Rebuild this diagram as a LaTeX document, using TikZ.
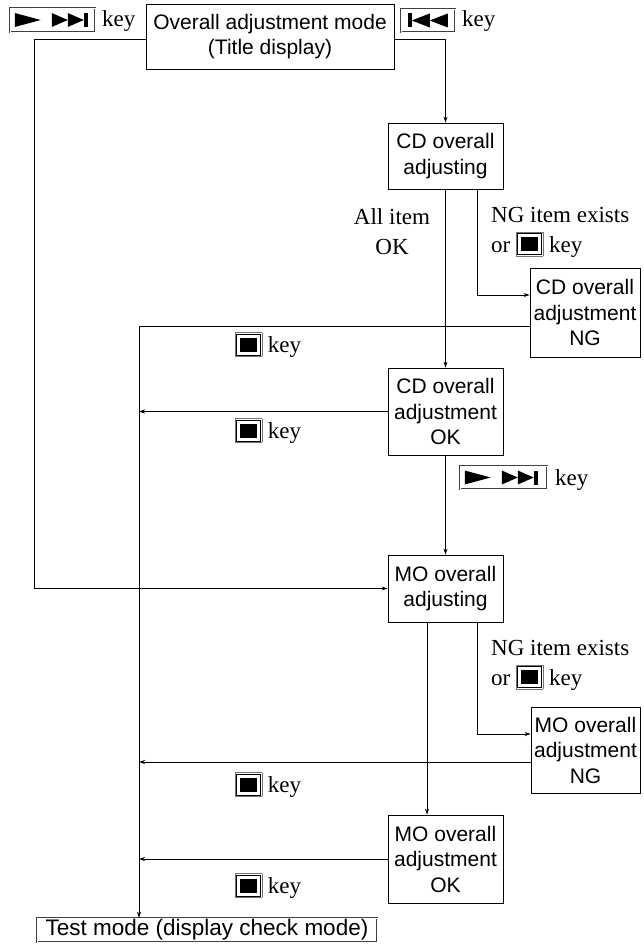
\documentclass[tikz,border=0pt]{standalone}
\usepackage{fontspec}
\setmainfont{Liberation Serif}
\setsansfont{Liberation Sans}
\usetikzlibrary{arrows.meta}
\newcommand{\stopicon}{\raisebox{1pt}{\setlength{\fboxrule}{0.5pt}\setlength{\fboxsep}{0.8pt}\fcolorbox{black!55}{white}{\setlength{\fboxsep}{3pt}\setlength{\fboxrule}{0.8pt}\fbox{\rule{17pt}{14pt}}}}}
\begin{document}
\begin{tikzpicture}[x=1pt,y=-1pt,
  box/.style={draw, line width=0.8pt, align=center, inner sep=0pt, font=\sffamily\fontsize{21}{25.5}\selectfont},
  lbl/.style={inner sep=0pt, font=\fontsize{23}{30}\selectfont},
  iconbox/.style={draw=black!75, double=white, double distance=0.8pt, line width=0.5pt, inner sep=0pt},
  arr/.style={line width=0.7pt, -{Stealth[length=6pt,width=4pt]}},
  ln/.style={line width=0.7pt}]
\useasboundingbox[fill=white] (0,0) rectangle (643,944);

% boxes
\node[box, minimum width=248pt, minimum height=65pt] (T) at (270,36.5) {Overall adjustment mode\\(Title display)};
\node[box, minimum width=115pt, minimum height=66pt] (CDA) at (445.5,156) {CD overall\\adjusting};
\node[box, minimum width=110pt, minimum height=89pt] (CDNG) at (585,312.5) {CD overall\\adjustment\\NG};
\node[box, minimum width=115pt, minimum height=87pt] (CDOK) at (445.5,411.5) {CD overall\\adjustment\\OK};
\node[box, minimum width=115pt, minimum height=67pt] (MOA) at (445.5,588.5) {MO overall\\adjusting};
\node[box, minimum width=109pt, minimum height=86pt] (MONG) at (585.5,750) {MO overall\\adjustment\\NG};
\node[box, minimum width=115pt, minimum height=88pt] (MOOK) at (445.5,859) {MO overall\\adjustment\\OK};
\node[box, draw=black!75, double=white, double distance=0.8pt, line width=0.5pt, minimum width=340pt, minimum height=24pt, font=\sffamily\fontsize{22.5}{26}\selectfont] (TM) at (207,930) {Test mode (display check mode)};

% key icons
\node[iconbox, minimum width=85pt, minimum height=24pt] (K1) at (52.5,20) {};
\begin{scope}[shift={(K1.west)}]
  \fill (5,-7) -- (31,0) -- (5,7) -- cycle;
  \fill (42,-7) -- (58,0) -- (42,7) -- cycle;
  \fill (58,-7) -- (74,0) -- (58,7) -- cycle;
  \fill (74,-7) rectangle (78,7);
\end{scope}
\node[lbl, anchor=base west] (K1t) at (102,27) {key};

\node[iconbox, minimum width=54pt, minimum height=23pt] (K2) at (428,20.5) {};
\begin{scope}[shift={(K2.west)}]
  \fill (7,-7) rectangle (11,7);
  \fill (11,0) -- (29,-7) -- (29,7) -- cycle;
  \fill (29,0) -- (47,-7) -- (47,7) -- cycle;
\end{scope}
\node[lbl, anchor=base west] (K2t) at (462,27) {key};

\node[iconbox, minimum width=87pt, minimum height=23pt] (K3) at (503.5,477.5) {};
\begin{scope}[shift={(K3.west)}]
  \fill (5,-7) -- (31,0) -- (5,7) -- cycle;
  \fill (42,-7) -- (58,0) -- (42,7) -- cycle;
  \fill (58,-7) -- (74,0) -- (58,7) -- cycle;
  \fill (74,-7) rectangle (78,7);
\end{scope}
\node[lbl, anchor=base west] (K3t) at (555,485) {key};

% labels
\node[lbl, align=center] (allok) at (392,231.5) {All item\\OK};
\node[lbl, align=left, anchor=west] (cdng) at (491,232) {NG item exists\\or \stopicon\ key};
\node[lbl, align=left, anchor=west] (mong) at (491,665) {NG item exists\\or \stopicon\ key};
\node[lbl] (s1) at (268,345) {\stopicon\ key};
\node[lbl] (s2) at (268,431) {\stopicon\ key};
\node[lbl] (s3) at (268,785) {\stopicon\ key};
\node[lbl] (s4) at (268,886) {\stopicon\ key};

% coordinates
\coordinate (lft) at (34,39);
\coordinate (busTop) at (139,326);
\coordinate (mongOut) at ([yshift=-12pt]MONG.west);
\coordinate (cdngOut) at ([yshift=-13.5pt]CDNG.west);

% connectors
\draw[arr] ([yshift=-2.5pt]T.west) -- (lft) |- (MOA.west);
\draw[arr] ([yshift=-2.5pt]T.east) -| (CDA.north);
\draw[arr] (CDA.south) -- (CDOK.north);
\draw[arr] ([xshift=31.5pt]CDA.south) |- ([yshift=17.5pt]CDNG.west);
\draw[arr] (cdngOut) -- (busTop) -- (TM.north -| busTop);
\draw[arr] (CDOK.west) -- (CDOK.west -| busTop);
\draw[arr] (CDOK.south) -- (MOA.north);
\draw[arr] ([xshift=-18.5pt]MOA.south) -- ([xshift=-18.5pt]MOOK.north);
\draw[arr] ([xshift=31.5pt]MOA.south) |- ([yshift=16pt]MONG.west);
\draw[arr] (mongOut) -- (mongOut -| busTop);
\draw[arr] (MOOK.west) -- (MOOK.west -| busTop);
\end{tikzpicture}
\end{document}
